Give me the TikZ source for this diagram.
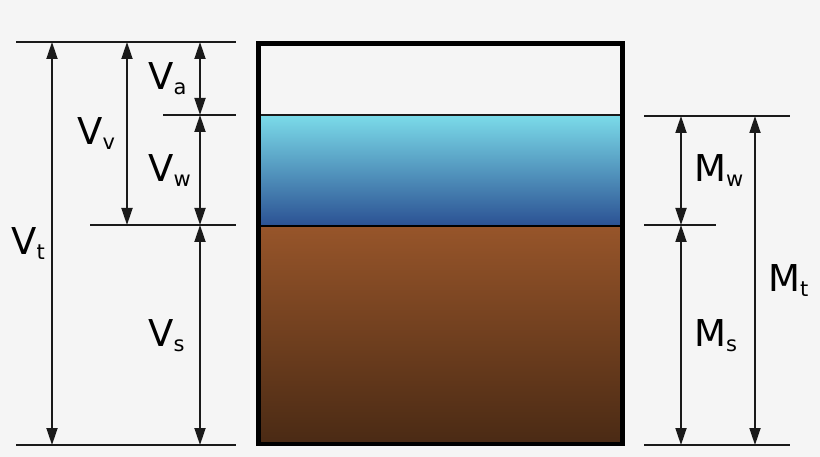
\documentclass[tikz,border=0pt]{standalone}
\usepackage{fontspec}
\setmainfont{DejaVu Sans}
\usetikzlibrary{arrows.meta}

\definecolor{hinter}{HTML}{F5F5F5}
\definecolor{wasseroben}{HTML}{7BDBE9}
\definecolor{wasserunten}{HTML}{2B5193}
\definecolor{bodenoben}{HTML}{97552A}
\definecolor{bodenunten}{HTML}{4A2A14}
\definecolor{linie}{HTML}{1A1A1A}

% Groesse mit Index
\newcommand{\groesse}[2]{{\fontsize{37}{37}\selectfont #1}\raisebox{-5pt}{\fontsize{21}{21}\selectfont #2}}

\begin{document}
\begin{tikzpicture}[x=1pt, y=-1pt,
		mass/.style={line width=1.8pt, draw=linie, {Triangle[length=17pt,width=11pt]}-{Triangle[length=17pt,width=11pt]}},
		ebene/.style={line width=1.8pt, draw=linie},
		lbl/.style={anchor=base west, inner sep=0pt}]
		
		% Hintergrund
		\fill[hinter] (0,0) rectangle (820,457);
		\useasboundingbox (0,0) rectangle (820,457);
		
		% Wasser und Boden
		\fill[top color=wasseroben, bottom color=wasserunten] (259,115) rectangle (623,226);
		\fill[top color=bodenoben, bottom color=bodenunten] (259,226) rectangle (623,444);
		\draw[line width=1.8pt, linie] (259,115) -- (623,115);
		\draw[line width=1.8pt, black] (259,226) -- (623,226);
		
		% Behaelter
		\draw[line width=4.5pt, black] (258.7,43.7) rectangle (622.7,444);
		
		% Hilfslinien links
		\coordinate (LO1) at (16,42);   \coordinate (LO2) at (236,42);
		\coordinate (LA1) at (163,115); \coordinate (LA2) at (236,115);
		\coordinate (LW1) at (90,225);  \coordinate (LW2) at (236,225);
		\coordinate (LU1) at (16,445);  \coordinate (LU2) at (236,445);
		\foreach \n in {LO,LA,LW,LU}
			\draw[ebene] (\n1) -- (\n2);
		
		% Hilfslinien rechts
		\coordinate (RO1) at (644,116); \coordinate (RO2) at (790,116);
		\coordinate (RW1) at (644,225); \coordinate (RW2) at (716,225);
		\coordinate (RU1) at (644,445); \coordinate (RU2) at (790,445);
		\foreach \n in {RO,RW,RU}
			\draw[ebene] (\n1) -- (\n2);
		
		% Masspfeile
		\foreach \n/\x/\a/\b in {Vt/52/42/445, Vv/127/42/225, Va/200/42/115, Vw/200/115/225, Vs/200/225/445,
			Mw/681/116/225, Ms/681/225/445, Mt/755/116/445}{
			\coordinate (\n o) at (\x,\a);
			\coordinate (\n u) at (\x,\b);
			\draw[mass] (\n o) -- (\n u);
		}
		
		% Beschriftung
		\node[lbl] (Va) at (148,90) {\groesse{V}{a}};
		\node[lbl] (Vv) at (77,145) {\groesse{V}{v}};
		\node[lbl] (Vw) at (148,182) {\groesse{V}{w}};
		\node[lbl] (Vt) at (11,255) {\groesse{V}{t}};
		\node[lbl] (Vs) at (148,347) {\groesse{V}{s}};
		\node[lbl] (Mw) at (694,182) {\groesse{M}{w}};
		\node[lbl] (Ms) at (694,347) {\groesse{M}{s}};
		\node[lbl] (Mt) at (768,292) {\groesse{M}{t}};
	\end{tikzpicture}
\end{document}
